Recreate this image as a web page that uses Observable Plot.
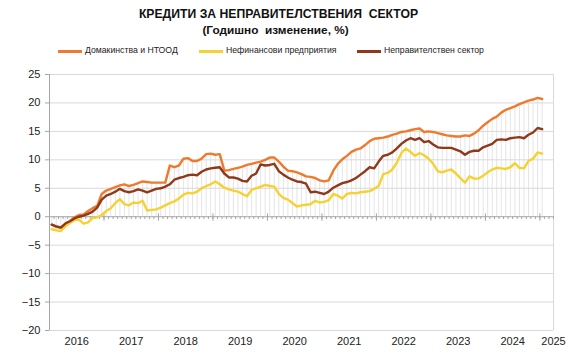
<!DOCTYPE html>
<html>
<head>
<meta charset="utf-8">
<script src="https://cdn.jsdelivr.net/npm/d3@7"></script>
<script src="https://cdn.jsdelivr.net/npm/@observablehq/plot@0.6"></script>
<style>
  body { margin:0; width:573px; height:354px; background:#fff; font-family:"Liberation Sans", Arial, sans-serif; position:relative; overflow:hidden; }
  .title { position:absolute; left:0; width:557px; text-align:center; font-weight:bold; color:#111; white-space:pre; }
  .leg { position:absolute; top:45px; font-size:8.7px; color:#222; white-space:nowrap; }
  .leg span.sw { position:absolute; top:5px; width:24px; height:2.5px; }
  #chart { position:absolute; top:60px; left:0; }
</style>
</head>
<body>
<div class="title" style="top:7px; font-size:12.2px;">КРЕДИТИ ЗА НЕПРАВИТЕЛСТВЕНИЯ  СЕКТОР</div>
<div class="title" style="top:23px; font-size:11.8px; width:551px;">(Годишно  изменение, %)</div>
<div id="legend"></div>
<div id="chart"></div>
<script>
// Series names
const seriesNames = ["Домакинства и НТООД", "Нефинансови  предприятия", "Неправителствен сектор"];
const colors = ["#EE7A2E", "#F5D231", "#8E3A1A"];

// Year tick labels
const yearLabels = ["2016","2017","2018","2019","2020","2021","2022","2023","2024","2025"];

// Monthly annual change (%), Jan 2016 – Jan 2025
const households = [
 -1.4,-1.8,-1.9,-1.2,-0.8,-0.1,0.3,0.4,1.0,1.5,1.9,4.0,
 4.6,4.9,5.2,5.5,5.7,5.4,5.6,5.9,6.2,6.1,6.0,6.0,
 6.0,6.0,9.0,8.7,9.0,10.2,10.3,9.8,9.8,10.2,11.0,11.1,
 10.9,11.0,8.1,8.2,8.4,8.6,8.8,9.1,9.3,9.5,9.7,10.0,
 10.4,10.4,9.7,8.8,8.1,8.0,7.8,7.5,7.1,7.0,6.8,6.4,
 6.2,6.4,8.1,9.3,10.1,10.7,11.4,11.8,12.0,12.6,13.3,13.7,
 13.8,13.9,14.1,14.4,14.6,14.9,15.0,15.2,15.4,15.5,14.9,15.0,
 14.9,14.7,14.5,14.3,14.2,14.1,14.1,14.3,14.2,14.6,15.2,16.0,
 16.6,17.2,17.6,18.3,18.8,19.1,19.4,19.8,20.1,20.4,20.6,20.9,
 20.7
];
const corporations = [
 -2.2,-2.4,-2.5,-1.7,-1.1,-0.6,-0.5,-1.2,-1.0,-0.2,-0.1,0.3,
 1.0,1.5,2.4,3.1,2.2,2.0,2.5,2.4,2.8,1.1,1.2,1.3,
 1.6,2.0,2.4,2.7,3.2,3.9,4.2,4.1,4.4,5.0,5.4,5.7,
 6.2,5.7,5.1,4.8,4.6,4.4,4.0,3.6,4.7,5.0,5.3,5.6,
 5.4,5.3,4.0,3.3,3.0,2.4,1.8,2.0,2.1,2.2,2.8,2.5,
 2.6,2.9,4.0,3.7,3.2,4.0,4.2,4.1,4.3,4.4,4.5,4.9,
 5.4,7.5,7.7,8.3,9.5,11.2,12.0,11.4,10.7,11.2,10.8,10.2,
 9.3,8.0,7.8,8.1,8.3,7.6,6.8,6.0,7.1,6.7,6.7,7.2,
 7.8,8.3,8.6,8.5,8.4,8.7,9.4,8.6,8.5,9.8,10.2,11.3,
 11.1
];
const total = [
 -1.4,-1.7,-1.9,-1.2,-0.8,-0.3,0.0,0.2,0.5,0.9,1.6,3.0,
 3.7,4.0,4.4,4.9,4.5,4.3,4.5,4.8,4.6,4.3,4.6,4.9,
 5.0,5.3,5.7,6.5,6.8,7.0,7.3,7.4,7.3,7.9,8.3,8.5,
 8.6,8.7,7.6,6.9,6.9,6.7,6.3,6.2,7.2,7.6,9.2,9.0,
 9.1,9.3,8.0,7.4,6.9,6.5,6.2,6.1,5.8,4.3,4.4,4.2,
 4.0,4.4,5.1,5.5,5.9,6.1,6.4,6.8,7.4,8.0,8.7,8.5,
 9.7,10.7,10.9,11.3,12.0,12.8,13.4,13.8,13.5,13.8,13.1,13.3,
 12.7,12.2,12.1,12.1,12.1,11.8,11.5,10.9,11.4,11.6,11.6,12.2,
 12.5,12.8,13.5,13.6,13.5,13.8,13.9,14.0,13.8,14.4,14.8,15.6,
 15.4
];

// legend
const legendX = [58, 199, 357];
const leg = document.getElementById("legend");
seriesNames.forEach((n, k) => {
  const d = document.createElement("div");
  d.className = "leg";
  d.style.left = legendX[k] + "px";
  d.innerHTML = `<span class="sw" style="left:0;background:${colors[k]}"></span><span style="margin-left:27px">${n}</span>`;
  leg.appendChild(d);
});

const allSeries = [households, corporations, total];
const idx = d3.range(households.length);
const lineData = allSeries.flatMap((arr, k) => arr.map((v, i) => ({i: i + 0.5, v, s: k})));
const drop = idx.map(i => ({i: i + 0.5, top: Math.max(households[i], corporations[i], total[i])}));
const nSlots = 111;
const yearTickPos = [6,18,30,42,54,66,78,90,102,111];

const chart = Plot.plot({
  width: 573,
  height: 294,
  marginLeft: 49,
  marginRight: 20,
  marginTop: 14,
  marginBottom: 24,
  x: {domain: [0, nSlots], axis: null, label: null},
  y: {domain: [-20, 25], axis: null, label: null},
  style: {fontFamily: "'Liberation Sans', Arial, sans-serif", background: "#fff"},
  marks: [
    Plot.gridY([-20,-15,-10,-5,5,10,15,20,25], {stroke: "#d9d9d9", strokeOpacity: 1}),
    Plot.ruleX([nSlots], {stroke: "#d9d9d9"}),
    Plot.ruleX(drop, {x: "i", y1: 0, y2: "top", stroke: "#dadada", strokeWidth: 0.7}),
    Plot.ruleY([0], {stroke: "#a6a6a6"}),
    Plot.ruleX(d3.range(0, nSlots + 1), {x: d => d, y1: 0, y2: -0.5, stroke: "#a6a6a6"}),
    Plot.ruleX(d3.range(0, nSlots + 1, 12), {x: d => d, y1: 0.5, y2: -0.8, stroke: "#a6a6a6"}),
    Plot.ruleX([0], {stroke: "#a6a6a6"}),
    Plot.line(lineData, {x: "i", y: "v", z: "s", stroke: d => colors[d.s], strokeWidth: 2.4, strokeLinejoin: "round"}),
    Plot.axisY({ticks: d3.range(-20, 26, 5), tickSize: 4, tickPadding: 5, fontSize: 11, stroke: "#a6a6a6", color: "#222", label: null}),
    Plot.axisX({ticks: yearTickPos, tickFormat: (d) => yearLabels[yearTickPos.indexOf(d)], tickSize: 0, tickPadding: 7, fontSize: 11, color: "#222", label: null})
  ]
});
document.getElementById("chart").appendChild(chart);
</script>
</body>
</html>
